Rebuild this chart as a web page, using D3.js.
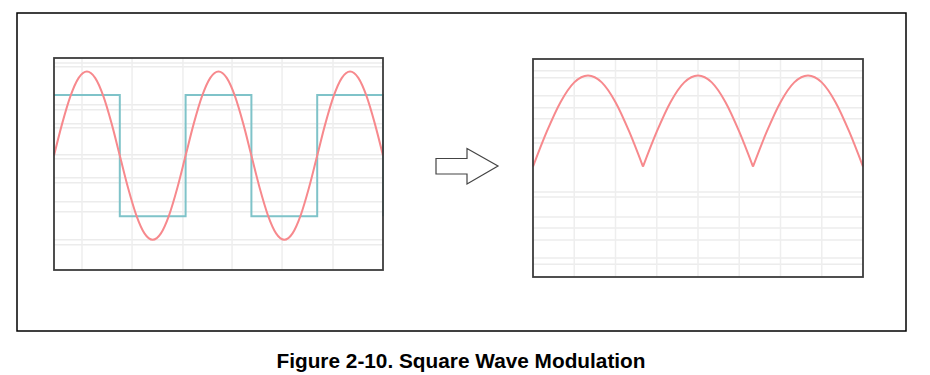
<!DOCTYPE html>
<html>
<head>
<meta charset="utf-8">
<script src="https://cdn.jsdelivr.net/npm/d3@7"></script>
<style>
  body { margin: 0; background: #fff; }
  svg { display: block; }
</style>
</head>
<body>
<div id="chart"></div>
<script>
// input: sine samples, 16 per period, 2.5 periods
const samplesPerPeriod = 16
const sineValues = [
  0, 0.383, 0.707, 0.924, 1, 0.924, 0.707, 0.383,
  0, -0.383, -0.707, -0.924, -1, -0.924, -0.707, -0.383,
  0, 0.383, 0.707, 0.924, 1, 0.924, 0.707, 0.383,
  0, -0.383, -0.707, -0.924, -1, -0.924, -0.707, -0.383,
  0, 0.383, 0.707, 0.924, 1, 0.924, 0.707, 0.383, 0
]
// square wave: level switches every half period
const squareTimes = [0, 0.5, 1, 1.5, 2, 2.5]
const squareLevels = [0.72, -0.72, 0.72, -0.72, 0.72, -0.72]

// output: rectified wave, 8 samples per hump, 3 humps
const samplesPerHump = 8
const rectValues = [
  0, 0.383, 0.707, 0.924, 1, 0.924, 0.707, 0.383,
  0, 0.383, 0.707, 0.924, 1, 0.924, 0.707, 0.383,
  0, 0.383, 0.707, 0.924, 1, 0.924, 0.707, 0.383, 0
]

// grid lines (data units)
const leftGridX = [0.213, 0.593, 0.98, 1.353, 1.733, 2.12]
const leftGridY = [1.102, 1.055, 0.603, 0.544, 0.378, 0.331, 0.01, -0.038,
  -0.264, -0.323, -0.549, -0.667, -1.0, -1.059]
const rightGridX = [0.375, 0.75, 1.125, 1.5, 1.875, 2.25, 2.625]
const rightGridY = [1.052, 0.975, 0.777, 0.645, 0.524, 0.315, 0.26,
  -0.278, -0.333, -0.553, -0.674, -0.805, -1.003, -1.069]

const caption = 'Figure 2-10. Square Wave Modulation'

const width = 930
const height = 375

const svg = d3
  .select('#chart')
  .append('svg')
  .attr('width', width)
  .attr('height', height)

// outer frame
svg
  .append('rect')
  .attr('x', 17)
  .attr('y', 13)
  .attr('width', 889)
  .attr('height', 318)
  .attr('fill', 'none')
  .attr('stroke', '#000')
  .attr('stroke-width', 1.5)

function drawPanel(box, xDomain, yDomain, gridX, gridY) {
  const g = svg.append('g')

  const xScale = d3.scaleLinear().domain(xDomain).range([box.x0, box.x1])
  const yScale = d3.scaleLinear().domain(yDomain).range([box.y1, box.y0])

  g.selectAll('.hgrid')
    .data(gridY)
    .enter()
    .append('line')
    .attr('x1', box.x0)
    .attr('x2', box.x1)
    .attr('y1', d => yScale(d))
    .attr('y2', d => yScale(d))
    .attr('stroke', '#ececec')
    .attr('stroke-width', 1.5)

  g.selectAll('.vgrid')
    .data(gridX)
    .enter()
    .append('line')
    .attr('x1', d => xScale(d))
    .attr('x2', d => xScale(d))
    .attr('y1', box.y0)
    .attr('y2', box.y1)
    .attr('stroke', '#eeeeee')
    .attr('stroke-width', 1.5)

  return { g, xScale, yScale }
}

// left panel
const left = drawPanel(
  { x0: 54, x1: 383, y0: 58, y1: 270 },
  [0, 2.5],
  [-1.36, 1.16],
  leftGridX,
  leftGridY
)

const squareLine = d3
  .line()
  .x((d, i) => left.xScale(squareTimes[i]))
  .y(d => left.yScale(d))
  .curve(d3.curveStepAfter)

left.g
  .append('path')
  .datum(squareLevels)
  .attr('d', squareLine)
  .attr('fill', 'none')
  .attr('stroke', '#7fc3c9')
  .attr('stroke-width', 2)

const sineLine = d3
  .line()
  .x((d, i) => left.xScale(i / samplesPerPeriod))
  .y(d => left.yScale(d))
  .curve(d3.curveMonotoneX)

left.g
  .append('path')
  .datum(sineValues)
  .attr('d', sineLine)
  .attr('fill', 'none')
  .attr('stroke', '#f7898d')
  .attr('stroke-width', 2)

left.g
  .append('rect')
  .attr('x', 54)
  .attr('y', 58)
  .attr('width', 329)
  .attr('height', 212)
  .attr('fill', 'none')
  .attr('stroke', '#3c3c3c')
  .attr('stroke-width', 1.8)

// right panel
const right = drawPanel(
  { x0: 533, x1: 863, y0: 59, y1: 277 },
  [0, 3],
  [-1.21, 1.18],
  rightGridX,
  rightGridY
)

// split into humps so the cusps stay sharp
const humps = []
let current = []
rectValues.forEach((v, i) => {
  current.push({ t: i / samplesPerHump, v: v })
  if (v === 0 && current.length > 1) {
    humps.push(current)
    current = [{ t: i / samplesPerHump, v: v }]
  }
})

const rectLine = d3
  .line()
  .x(d => right.xScale(d.t))
  .y(d => right.yScale(d.v))
  .curve(d3.curveMonotoneX)

right.g
  .selectAll('.hump')
  .data(humps)
  .enter()
  .append('path')
  .attr('d', rectLine)
  .attr('fill', 'none')
  .attr('stroke', '#f7898d')
  .attr('stroke-width', 2)

right.g
  .append('rect')
  .attr('x', 533)
  .attr('y', 59)
  .attr('width', 330)
  .attr('height', 218)
  .attr('fill', 'none')
  .attr('stroke', '#3c3c3c')
  .attr('stroke-width', 1.8)

// arrow between panels
const arrowPts = [
  [436, 158.5], [467, 158.5], [467, 148.5], [498, 166],
  [467, 184], [467, 174], [436, 174]
]
svg
  .append('polygon')
  .attr('points', arrowPts.map(p => p.join(',')).join(' '))
  .attr('fill', '#fff')
  .attr('stroke', '#444')
  .attr('stroke-width', 1.2)

svg
  .append('text')
  .attr('x', 461)
  .attr('y', 368)
  .attr('text-anchor', 'middle')
  .attr('font-family', 'Liberation Sans, Arial, sans-serif')
  .attr('font-weight', 'bold')
  .attr('font-size', 20.8)
  .attr('fill', '#000')
  .text(caption)
</script>
</body>
</html>
